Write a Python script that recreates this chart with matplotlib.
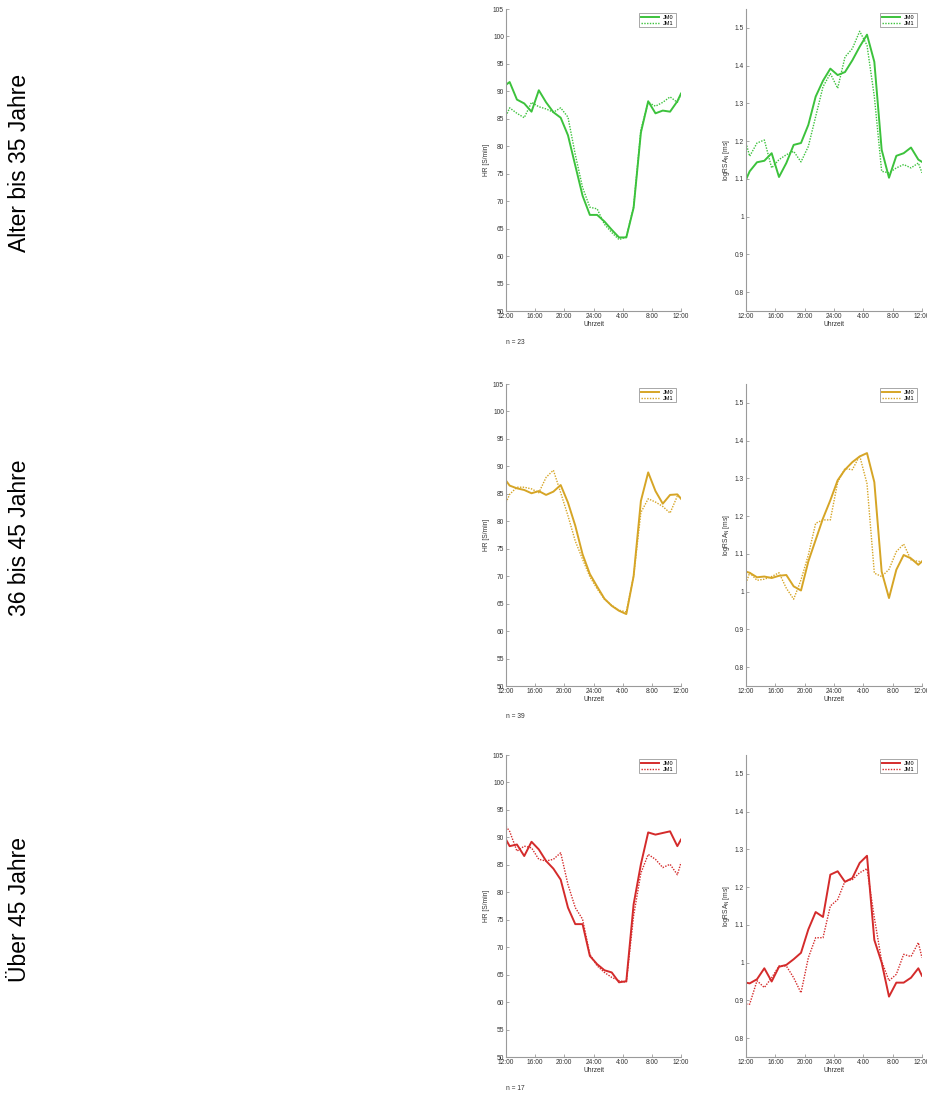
import matplotlib
matplotlib.use("Agg")
import matplotlib.pyplot as plt

plt.rcParams["font.family"] = ["Liberation Sans", "DejaVu Sans"]

# Stundenraster ab 12:00 (0 h) bis 12:00 am Folgetag (24 h)
stunden = [0, 0.5, 1.5, 2.5, 3.5, 4.5, 5.5, 6.5, 7.5, 8.5, 9.5, 10.5, 11.5,
           12.5, 13.5, 14.5, 15.5, 16.5, 17.5, 18.5, 19.5, 20.5, 21.5, 22.5, 23.5, 24]
tick_pos = [0, 4, 8, 12, 16, 20, 24]
tick_labels = ["12:00", "16:00", "20:00", "24:00", "4:00", "8:00", "12:00"]

gruppen = ["Alter bis 35 Jahre", "36 bis 45 Jahre", "Über 45 Jahre"]
n_werte = [23, 39, 17]
farben = ["#3cc23c", "#d6a526", "#d42b2b"]

# Herzfrequenz, JM0 / JM1
hr_jm0_35 = [91.2, 91.7, 88.5, 87.8, 86.3, 90.2, 88.0, 86.2, 85.2, 82.0, 76.5, 71.0, 67.5,
             67.5, 66.3, 64.8, 63.4, 63.4, 68.8, 82.5, 88.2, 86.0, 86.5, 86.3, 88.2, 89.6]
hr_jm1_35 = [85.5, 87.0, 86.0, 85.2, 88.0, 87.2, 86.8, 86.2, 87.0, 85.3, 78.5, 72.5, 68.9,
             68.6, 65.8, 64.3, 63.0, 63.5, 69.0, 83.0, 88.0, 87.3, 88.0, 89.0, 88.0, 89.5]
hr_jm0_45 = [87.4, 86.5, 86.0, 85.7, 85.1, 85.5, 84.8, 85.4, 86.6, 83.4, 79.2, 74.0, 70.4,
             68.1, 65.9, 64.6, 63.7, 63.1, 70.0, 83.7, 88.9, 85.5, 83.2, 84.8, 84.9, 84.1]
hr_jm1_45 = [83.4, 84.9, 86.2, 86.2, 85.9, 85.2, 88.0, 89.3, 85.2, 81.0, 76.4, 73.1, 69.9,
             67.7, 65.8, 64.7, 63.8, 63.5, 70.0, 81.6, 84.1, 83.5, 82.7, 81.5, 84.6, 84.3]
hr_jm0_ue45 = [89.6, 88.4, 88.7, 86.6, 89.2, 87.8, 85.7, 84.3, 82.3, 77.2, 74.2, 74.2, 68.4,
               66.9, 65.8, 65.4, 63.6, 63.8, 77.8, 85.1, 90.9, 90.5, 90.8, 91.1, 88.4, 89.6]
hr_jm1_ue45 = [92.0, 91.1, 87.5, 88.4, 88.1, 86.0, 85.7, 86.0, 87.2, 81.4, 77.2, 75.1, 68.7,
               66.6, 65.4, 64.5, 63.9, 63.6, 75.7, 83.5, 86.9, 86.0, 84.5, 85.1, 83.2, 85.4]

# logRSA, JM0 / JM1
rsa_jm0_35 = [1.098, 1.12, 1.144, 1.148, 1.168, 1.105, 1.142, 1.19, 1.195, 1.243, 1.318, 1.36, 1.392,
              1.375, 1.383, 1.414, 1.45, 1.482, 1.41, 1.177, 1.103, 1.161, 1.168, 1.183, 1.151, 1.145]
rsa_jm1_35 = [1.195, 1.16, 1.195, 1.203, 1.129, 1.151, 1.164, 1.173, 1.145, 1.186, 1.265, 1.344, 1.379,
              1.34, 1.423, 1.445, 1.491, 1.454, 1.318, 1.12, 1.116, 1.129, 1.138, 1.129, 1.142, 1.116]
rsa_jm0_45 = [1.053, 1.05, 1.038, 1.04, 1.036, 1.042, 1.044, 1.014, 1.003, 1.08, 1.137, 1.194, 1.242,
              1.295, 1.323, 1.343, 1.358, 1.367, 1.29, 1.053, 0.983, 1.058, 1.097, 1.088, 1.071, 1.08]
rsa_jm1_45 = [1.022, 1.05, 1.03, 1.033, 1.04, 1.05, 1.009, 0.98, 1.031, 1.097, 1.181, 1.19, 1.19,
              1.29, 1.326, 1.323, 1.36, 1.286, 1.049, 1.04, 1.059, 1.106, 1.126, 1.084, 1.08, 1.08]
rsa_jm0_ue45 = [0.947, 0.945, 0.956, 0.985, 0.95, 0.989, 0.994, 1.009, 1.026, 1.088, 1.134, 1.121, 1.233,
                1.242, 1.214, 1.224, 1.264, 1.283, 1.06, 1.0, 0.91, 0.947, 0.947, 0.96, 0.985, 0.965]
rsa_jm1_ue45 = [0.89, 0.89, 0.952, 0.934, 0.96, 0.991, 0.991, 0.96, 0.92, 1.013, 1.066, 1.066, 1.15,
                1.167, 1.216, 1.22, 1.238, 1.249, 1.119, 1.004, 0.952, 0.969, 1.022, 1.016, 1.053, 1.013]

hr_daten = [(hr_jm0_35, hr_jm1_35), (hr_jm0_45, hr_jm1_45), (hr_jm0_ue45, hr_jm1_ue45)]
rsa_daten = [(rsa_jm0_35, rsa_jm1_35), (rsa_jm0_45, rsa_jm1_45), (rsa_jm0_ue45, rsa_jm1_ue45)]

W, H = 927, 1095
fig = plt.figure(figsize=(W / 100, H / 100), dpi=100)


def rect(x0, top, w, h):
    return [x0 / W, 1 - (top + h) / H, w / W, h / H]


def style_axes(ax, ylim, yticks, ylabel):
    ax.set_xlim(0, 24)
    ax.set_ylim(*ylim)
    ax.set_xticks(tick_pos)
    ax.set_xticklabels(tick_labels)
    ax.set_yticks(yticks)
    ax.set_yticklabels([f"{t:g}" for t in yticks])
    for side in ["top", "right"]:
        ax.spines[side].set_visible(False)
    for side in ["left", "bottom"]:
        ax.spines[side].set_color("#9a9a9a")
        ax.spines[side].set_linewidth(0.8)
    ax.tick_params(direction="in", length=2, width=0.6, color="#9a9a9a",
                   labelsize=4.8, labelcolor="#333333", pad=1.5)
    ax.set_xlabel("Uhrzeit", fontsize=4.8, color="#333333", labelpad=0.5)
    ax.set_ylabel(ylabel, fontsize=4.8, color="#333333", labelpad=2)
    leg = ax.legend(loc="upper right", fontsize=4, handlelength=3.2, borderpad=0.3,
                    labelspacing=0.1, fancybox=False, framealpha=1,
                    bbox_to_anchor=(0.985, 0.995))
    leg.get_frame().set_edgecolor("#9a9a9a")
    leg.get_frame().set_linewidth(0.6)


zeilen_top = [9, 384, 755]
hoehe = 302

for i, top in enumerate(zeilen_top):
    farbe = farben[i]

    ax_hr = fig.add_axes(rect(506, top, 175, hoehe))
    jm0, jm1 = hr_daten[i]
    ax_hr.plot(stunden, jm0, color=farbe, lw=1.4, label="JM0")
    ax_hr.plot(stunden, jm1, color=farbe, lw=1.0, ls=(0, (1, 1)), label="JM1")
    style_axes(ax_hr, (50, 105), list(range(50, 106, 5)), "HR [S/min]")

    ax_rsa = fig.add_axes(rect(746, top, 176, hoehe))
    jm0, jm1 = rsa_daten[i]
    ax_rsa.plot(stunden, jm0, color=farbe, lw=1.4, label="JM0")
    ax_rsa.plot(stunden, jm1, color=farbe, lw=1.0, ls=(0, (1, 1)), label="JM1")
    style_axes(ax_rsa, (0.75, 1.55), [0.8, 0.9, 1.0, 1.1, 1.2, 1.3, 1.4, 1.5],
               r"logRSA$_\mathregular{N}$ [ms]")

    # Gruppenbezeichnung links und Stichprobengröße unter dem HR-Diagramm
    fig.text(20 / W, 1 - (top + hoehe / 2 + 3) / H, gruppen[i], rotation=90,
             fontsize=16.5, ha="center", va="center", color="black")
    fig.text(506 / W, 1 - (top + 333) / H, f"n = {n_werte[i]}",
             fontsize=4.8, ha="left", va="center", color="#333333")

fig.savefig("out.png", dpi=100)
